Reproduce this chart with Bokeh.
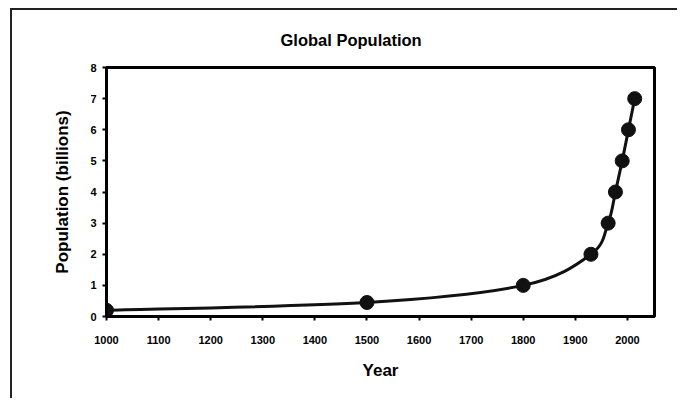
from bokeh.plotting import figure
from bokeh.models import Range1d, FixedTicker
from bokeh.embed import file_html
from bokeh.resources import INLINE

# Data
years = [1000, 1500, 1800, 1930, 1963, 1977, 1990, 2002, 2014]
population = [0.2, 0.45, 1.0, 2.0, 3.0, 4.0, 5.0, 6.0, 7.0]
x_ticks = [1000, 1100, 1200, 1300, 1400, 1500, 1600, 1700, 1800, 1900, 2000]
y_ticks = [0, 1, 2, 3, 4, 5, 6, 7, 8]
title_text = "Global Population"

FONT = "Liberation Sans"

p = figure(width=667, height=390,
           x_range=Range1d(1000, 2052), y_range=Range1d(0, 8),
           output_backend="svg", toolbar_location=None,
           min_border_left=94, min_border_right=25,
           min_border_top=56, min_border_bottom=84)
p.styles = {"border-left": "2px solid #222", "border-top": "2px solid #222",
            "margin-left": "10px", "margin-top": "8px"}

p.background_fill_color = "white"
p.border_fill_color = "white"
p.outline_line_color = "black"
p.outline_line_width = 3
p.xgrid.visible = False
p.ygrid.visible = False

p.title.text = title_text
p.title.text_font = FONT
p.title.text_font_size = "16.5px"
p.title.text_font_style = "bold"
p.title.text_color = "black"
p.title.align = "left"
p.title.offset = 174
p.title.standoff = 37

for ax in (p.xaxis[0], p.yaxis[0]):
    ax.axis_line_width = 2
    ax.axis_line_color = "black"
    ax.major_tick_line_width = 2
    ax.major_tick_line_color = "black"
    ax.major_tick_out = 4
    ax.major_tick_in = 0
    ax.minor_tick_out = 0
    ax.minor_tick_in = 0
    ax.major_label_text_font = FONT
    ax.major_label_text_font_size = "11px"
    ax.major_label_text_font_style = "bold"
    ax.major_label_text_color = "black"
    ax.axis_label_text_font = FONT
    ax.axis_label_text_font_size = "17px"
    ax.axis_label_text_font_style = "bold"
    ax.axis_label_text_color = "black"

p.xaxis.ticker = FixedTicker(ticks=x_ticks)
p.yaxis.ticker = FixedTicker(ticks=y_ticks)
p.xaxis.axis_label = "Year"
p.yaxis.axis_label = "Population (billions)"
p.xaxis.major_label_standoff = 15
p.xaxis.axis_label_standoff = 14
p.yaxis.major_label_standoff = 6
p.yaxis.axis_label_standoff = 15

# Smoothed line (Catmull-Rom style Bezier control points from the data)
n = len(years)
x0, y0, x1, y1, cx0, cy0, cx1, cy1 = [], [], [], [], [], [], [], []
for i in range(n - 1):
    ip = max(i - 1, 0)
    inn = min(i + 2, n - 1)
    x0.append(years[i]); y0.append(population[i])
    x1.append(years[i + 1]); y1.append(population[i + 1])
    cx0.append(years[i] + (years[i + 1] - years[ip]) / 6)
    cy0.append(population[i] + (population[i + 1] - population[ip]) / 6)
    cx1.append(years[i + 1] - (years[inn] - years[i]) / 6)
    cy1.append(population[i + 1] - (population[inn] - population[i]) / 6)

p.bezier(x0=x0, y0=y0, x1=x1, y1=y1, cx0=cx0, cy0=cy0, cx1=cx1, cy1=cy1,
         line_color="#111111", line_width=3)
p.scatter(years, population, size=14, fill_color="#111111",
          line_color="#111111")

open("out.html", "w").write(file_html(p, INLINE))
